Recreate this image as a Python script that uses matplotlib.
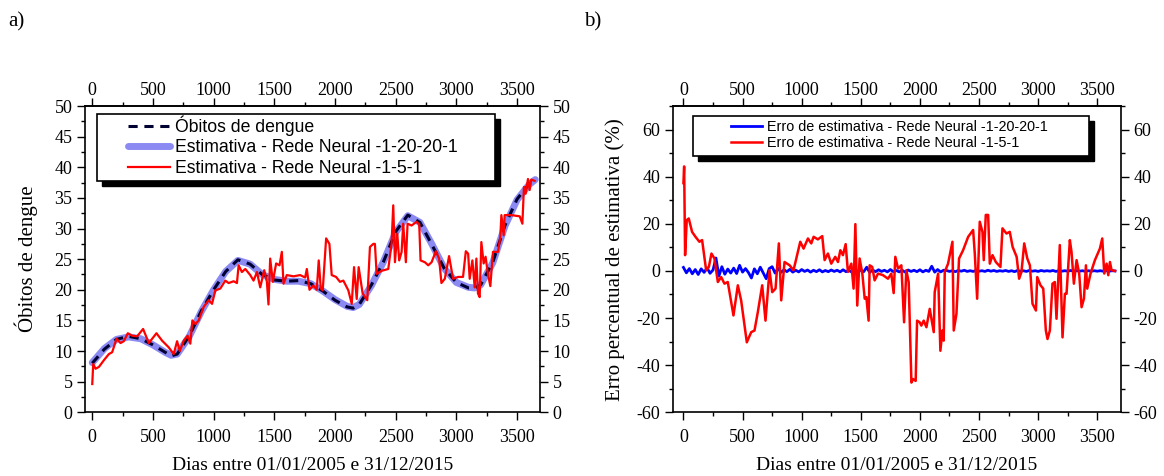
"""
Dengue deaths and neural network estimates, 2005-2015.

Two panels:
  a) observed deaths vs. estimates from two networks
  b) percentage estimation error of both networks

Output: out.png
"""

import os

os.environ.setdefault("MPLBACKEND", "Agg")

import matplotlib.pyplot as plt
import numpy as np
from matplotlib.patches import Rectangle
from matplotlib.ticker import FixedLocator, MultipleLocator

# ---- panel a: observed deaths (smooth curve) ----
obitos_dias = [0, 100, 200, 300, 400, 500, 600, 650, 700, 800, 900, 1000, 1100,
               1200, 1300, 1400, 1500, 1600, 1700, 1800, 1900, 2000, 2100, 2150,
               2200, 2300, 2400, 2500, 2600, 2700, 2800, 2900, 3000, 3100, 3150,
               3200, 3300, 3400, 3500, 3600, 3650]
obitos = [8.0, 10.3, 11.9, 12.4, 12.0, 11.0, 9.8, 9.2, 9.5, 12.5, 16.6, 20.0, 23.0,
          24.9, 24.2, 22.5, 21.6, 21.4, 21.5, 21.0, 19.8, 18.3, 17.2, 17.0,
          17.6, 20.8, 24.6, 29.5, 32.2, 31.0, 27.3, 23.5, 21.2, 20.3, 20.3,
          20.8, 24.5, 30.5, 34.8, 37.3, 38.0]
# network 1-20-20-1 lies on top of the observed curve
est_20_20 = [8.1, 10.4, 11.9, 12.3, 12.0, 11.0, 9.8, 9.3, 9.5, 12.4, 16.5, 20.0, 23.0,
             24.8, 24.2, 22.5, 21.7, 21.4, 21.4, 21.0, 19.8, 18.4, 17.3, 17.1,
             17.6, 20.7, 24.6, 29.4, 32.1, 31.0, 27.4, 23.5, 21.2, 20.4, 20.3,
             20.8, 24.4, 30.4, 34.7, 37.2, 38.0]

# ---- panel a: network 1-5-1 estimate ----
est_5_dias = [0, 8, 27, 55, 96, 137, 164, 200, 233, 260, 293, 329, 370, 419, 466,
              529, 575, 630, 671, 699, 721, 754, 786, 808, 825, 850, 877, 918, 959,
              987, 1014, 1055, 1096, 1124, 1165, 1192, 1206, 1233, 1261, 1302, 1329,
              1357, 1384, 1417, 1439, 1452, 1466, 1488, 1515, 1543, 1562, 1576, 1603,
              1658, 1713, 1754, 1768, 1790, 1822, 1850, 1866, 1883, 1899, 1927, 1954,
              1973, 2009, 2041, 2069, 2110, 2138, 2157, 2179, 2195, 2228, 2266, 2288,
              2316, 2329, 2343, 2384, 2439, 2466, 2480, 2494, 2513, 2529, 2549, 2562,
              2584, 2598, 2631, 2672, 2694, 2705, 2741, 2768, 2796, 2831, 2858, 2877,
              2905, 2940, 2973, 3014, 3055, 3078, 3097, 3110, 3132, 3151, 3165, 3178,
              3192, 3206, 3225, 3241, 3260, 3280, 3302, 3343, 3362, 3371, 3390, 3398,
              3453, 3522, 3544, 3557, 3571, 3590, 3604, 3617, 3645]
est_5 = [4.6, 7.9, 7.1, 7.4, 8.5, 9.5, 9.8, 12.0, 11.3, 11.6, 12.9, 12.5, 12.4, 13.6, 11.3,
         12.9, 11.7, 10.6, 9.5, 11.6, 10.0, 11.7, 12.5, 11.2, 15.0, 14.4, 15.0, 17.2, 18.3,
         17.7, 19.9, 20.2, 21.5, 21.1, 21.4, 21.1, 24.0, 22.9, 23.4, 22.4, 21.5,
         22.9, 20.4, 23.2, 21.3, 17.6, 25.1, 21.3, 24.3, 24.0, 26.2, 21.0, 22.4,
         22.2, 22.4, 22.0, 23.4, 20.0, 20.7, 20.0, 24.8, 20.2, 19.9, 28.4, 27.5,
         22.4, 22.1, 21.3, 21.5, 19.9, 17.7, 23.7, 18.5, 23.7, 19.4, 18.3, 27.0,
         27.5, 27.5, 22.6, 23.1, 23.4, 27.5, 33.8, 24.5, 29.2, 24.8, 26.2, 30.8,
         24.5, 30.8, 30.5, 31.1, 30.7, 24.8, 24.5, 24.0, 24.5, 26.3, 25.1, 21.1,
         21.8, 25.5, 21.8, 22.1, 22.1, 26.3, 25.9, 21.8, 24.8, 20.4, 25.1, 19.4,
         18.8, 27.8, 24.3, 25.4, 22.6, 20.6, 26.2, 26.2, 28.6, 32.2, 28.9, 32.2,
         32.2, 32.0, 30.8, 36.8, 35.7, 38.1, 36.3, 38.0, 37.8]

# ---- panel b: error of network 1-20-20-1 (%), one value every 25 days ----
erro_20_dias = np.arange(0, 3651, 25)
erro_20 = [1.5, -0.8, 1.0, -1.2, 0.6, -1.5, 0.9, -0.6, 1.3, -1.0,
           0.4, 5.5, -2.2, 1.8, -1.4, 0.8, -0.9, 1.2, -1.1, 2.4,
           -0.5, 1.0, -0.7, -3.0, 0.9, -1.2, 1.6, -0.8, -3.3, 1.0,
           1.8, -0.9, 1.1,
           -0.6, 0.5, -0.3, 0.7, -0.5, 0.3, -0.4, 0.6, -0.2, 0.4,
           -0.5, 0.3, -0.3, 0.5, -0.4, 0.2, -0.3, 0.4, -0.2, 0.3,
           -0.4, 0.5, -0.3, 0.2, -0.5, 0.4, -0.2, 0.3, -0.3, 1.6,
           -0.6, 0.4, -0.3, 0.5, -0.2, 0.3, -0.4, 0.6, -0.3, 0.2,
           -0.4, 0.3, -0.5, 0.4, -0.2, 0.3, -0.3, 0.5, -0.4, 0.3,
           -0.2, 2.0, -0.5, 0.6, -0.4, 0.3,
           0.2, -0.2, 0.1, -0.3, 0.2, -0.1, 0.3, -0.2, 0.1, -0.2,
           0.2, -0.1, 0.1, -0.2, 0.3, -0.1, 0.2, -0.2, 0.1, -0.1,
           0.2, -0.2, 0.1, -0.3, 0.2, -0.1, 0.1, -0.2, 0.2, -0.1,
           0.1, -0.2, 0.2, -0.1, 0.1, -0.1, 0.2, -0.2, 0.1, -0.1,
           0.1, -0.1, 0.2, -0.1, 0.1, -0.1, 0.1, -0.2, 0.1, -0.1,
           0.1, -0.1, 0.1, -0.1, 0.1, -0.1, 0.1, 0.0]

# ---- panel b: error of network 1-5-1 (%) ----
erro_5_dias = [0, 6, 14, 28, 45, 73, 102, 135, 158, 192, 215, 237, 262, 291, 319, 347,
               375, 423, 460, 488, 536, 573, 601, 629, 666, 694, 728, 751, 779, 807,
               827, 855, 898, 931, 988, 1016, 1053, 1081, 1101, 1137, 1174, 1194, 1222,
               1250, 1284, 1307, 1327, 1349, 1372, 1391, 1420, 1439, 1454, 1470, 1490,
               1513, 1533, 1547, 1566, 1575, 1597, 1617, 1646, 1688, 1730, 1758, 1778,
               1792, 1815, 1843, 1866, 1885, 1905, 1928, 1942, 1964, 1976, 1998, 2012,
               2032, 2055, 2083, 2117, 2125, 2154, 2173, 2190, 2201, 2210, 2238, 2275,
               2286, 2309, 2331, 2365, 2408, 2450, 2464, 2484, 2506, 2529, 2540, 2557,
               2577, 2591, 2614, 2642, 2681, 2698, 2732, 2760, 2784, 2818, 2839, 2859,
               2882, 2908, 2930, 2952, 2981, 2992, 3020, 3043, 3065, 3079, 3099, 3121,
               3141, 3155, 3183, 3206, 3226, 3240, 3268, 3282, 3302, 3325, 3347, 3367,
               3387, 3404, 3415, 3443, 3480, 3522, 3542, 3559, 3579, 3593, 3607, 3621,
               3650]
erro_5 = [37.3, 44.4, 6.7, 21.6, 22.3, 16.6, 14.5, 12.4, 13.1, 0.3, 1.7, 7.4, 5.3, -4.7,
          -2.6, -5.4, -4.7, -18.9, -6.1, -12.5, -30.3, -26.0, -25.3, -17.5, -6.1, -21.1,
          0.3, -9.0, -7.5, 11.7, -12.5, 3.8, 2.4, 0.3, 12.4, 9.5, 13.8, 11.7, 14.5, 13.4,
          14.8, 4.6, 7.4, 3.1, 6.0, 3.8, 8.8, 6.7, 11.4, -0.4, 3.1, -7.5, 19.9, -14.7,
          5.3, -1.1, -11.8, -11.1, -21.1, 2.4, 1.7, -4.0, -1.1, -1.8, -3.3, -1.1, -9.4,
          6.0, 1.0, 2.4, -21.8, 0.3, -4.7, -47.4, -45.9, -46.7, -21.1, -21.8, -23.2,
          -21.1, -23.9, -16.1, -26.0, -9.0, -1.1, -33.9, -25.3, -29.6, -0.4, 3.1, 12.4,
          -25.3, -18.2, 5.3, 8.8, 14.5, 17.4, 7.4, -11.8, 20.9, 16.6, 4.6, 23.8,
          23.8, 3.1, 6.7, 3.8, 1.7, 18.1, 15.9, 16.6, 10.2, 6.0, -3.3, -0.4,
          11.7, 5.3, 2.4, -13.9, -16.8, -2.6, -6.1, -7.5, -25.3, -28.9, -25.3, -5.4,
          -4.7, -20.3, 11.0, -28.2, -9.7, -9.7, 13.1, 8.1, -5.4, 4.6, -1.1, -15.4,
          -11.8, 2.4, -7.5, -1.1, 4.6, 9.5, 13.8, -1.1, 3.1, -1.8, 3.8, 0.3,
          0.0]

XLABEL = "Dias entre 01/01/2005 e 31/12/2015"
X_TICKS = [0, 500, 1000, 1500, 2000, 2500, 3000, 3500]
X_MINOR = [250, 750, 1250, 1750, 2250, 2750, 3250]

plt.rcParams["font.family"] = ["Liberation Serif", "DejaVu Serif"]
plt.rcParams["axes.unicode_minus"] = False


def tick_style(axis_obj, **kw):
    axis_obj.tick_params(which="both", direction="out", width=1, labelsize=13, **kw)
    axis_obj.tick_params(which="major", length=6)
    axis_obj.tick_params(which="minor", length=3)


def style_axes(ax, ymajor, yminor):
    ax.xaxis.set_major_locator(FixedLocator(X_TICKS))
    ax.xaxis.set_minor_locator(FixedLocator(X_MINOR))
    ax.yaxis.set_major_locator(MultipleLocator(ymajor))
    ax.yaxis.set_minor_locator(MultipleLocator(yminor))
    tick_style(ax, right=True, labelright=True)
    ax.tick_params(axis="x", pad=6)
    ax.tick_params(axis="y", pad=3)
    # top axis as its own scale so its labels can sit closer to the ticks
    top = ax.secondary_xaxis("top")
    top.xaxis.set_major_locator(FixedLocator(X_TICKS))
    top.xaxis.set_minor_locator(FixedLocator(X_MINOR))
    tick_style(top, pad=-1)
    top.spines["top"].set_linewidth(1.2)
    for sp in ax.spines.values():
        sp.set_linewidth(1.2)
    ax.set_xlabel(XLABEL, fontsize=14, labelpad=8)


def legend_box(ax, x0, x1, y0, y1, dx, dy):
    ax.add_patch(Rectangle((x0 + dx, y0 - dy), x1 - x0, y1 - y0, transform=ax.transAxes,
                           facecolor="black", edgecolor="black", zorder=8))
    ax.add_patch(Rectangle((x0, y0), x1 - x0, y1 - y0, transform=ax.transAxes,
                           facecolor="white", edgecolor="black", lw=1.2, zorder=9))


fig = plt.figure(figsize=(11.64, 4.76), dpi=100)
ax_a = fig.add_axes([0.073, 0.134, 0.391, 0.643])
ax_b = fig.add_axes([0.578, 0.134, 0.385, 0.643])

# ---- panel a ----
l2, = ax_a.plot(obitos_dias, est_20_20, color="#8a8af2", lw=5, solid_capstyle="round",
                label="Estimativa - Rede Neural -1-20-20-1")
l1, = ax_a.plot(obitos_dias, obitos, color="#000033", lw=2.2, ls=(0, (3, 2.2)),
                label="Óbitos de dengue")
l3, = ax_a.plot(est_5_dias, est_5, color="red", lw=1.6,
                label="Estimativa - Rede Neural -1-5-1")
ax_a.set_xlim(-60, 3690)
ax_a.set_ylim(0, 50)
style_axes(ax_a, 5, 2.5)
ax_a.set_ylabel("Óbitos de dengue", fontsize=15, labelpad=12)
legend_box(ax_a, 0.026, 0.901, 0.755, 0.974, 0.011, 0.016)
leg_a = ax_a.legend(handles=[l1, l2, l3], loc="upper left", bbox_to_anchor=(0.094, 0.97),
                    frameon=False, borderpad=0, borderaxespad=0, handlelength=2.4,
                    handletextpad=0.3, labelspacing=0.2,
                    prop={"family": "Liberation Sans", "size": 12.7})
leg_a.set_zorder(10)

# ---- panel b ----
m1, = ax_b.plot(erro_20_dias, erro_20, color="#0000ff", lw=2,
                label="Erro de estimativa - Rede Neural -1-20-20-1")
m2, = ax_b.plot(erro_5_dias, erro_5, color="red", lw=1.8,
                label="Erro de estimativa - Rede Neural -1-5-1")
ax_b.set_xlim(-90, 3700)
ax_b.set_ylim(-60, 70)
style_axes(ax_b, 20, 10)
ax_b.set_ylabel("Erro percentual de estimativa (%)", fontsize=15, labelpad=8)
legend_box(ax_b, 0.045, 0.929, 0.837, 0.967, 0.011, 0.016)
leg_b = ax_b.legend(handles=[m1, m2], loc="upper left", bbox_to_anchor=(0.129, 0.955),
                    frameon=False, borderpad=0, borderaxespad=0, handlelength=2.2,
                    handletextpad=0.3, labelspacing=0.12,
                    prop={"family": "Liberation Sans", "size": 10.4})
leg_b.set_zorder(10)

fig.text(0.007, 0.955, "a)", fontsize=15, va="center")
fig.text(0.502, 0.955, "b)", fontsize=15, va="center")

fig.savefig("out.png", dpi=100)
plt.close(fig)
